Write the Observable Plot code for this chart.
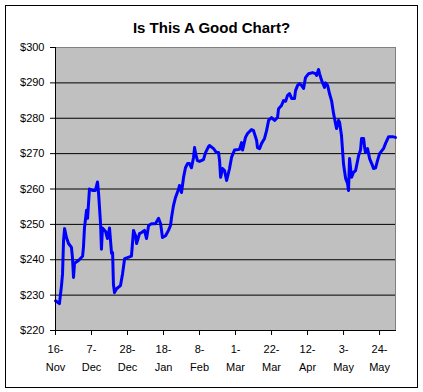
<!DOCTYPE html>
<html>
<head>
<meta charset="utf-8">
<script src="https://cdn.jsdelivr.net/npm/d3@7"></script>
<script src="https://cdn.jsdelivr.net/npm/@observablehq/plot@0.6"></script>
<style>
  html, body { margin: 0; padding: 0; background: #fff; }
  #wrap { position: relative; width: 423px; height: 392px; }
  #border { position: absolute; left: 5px; top: 5px; width: 413px; height: 383px; box-sizing: border-box; border: 1px solid #000; pointer-events: none; }
</style>
</head>
<body>
<div id="wrap"><div id="border"></div></div>
<script>
const title = "Is This A Good Chart?";
const startDate = Date.UTC(2004, 10, 16);
// days after 16-Nov
const dayOffsets = [0, 2.3, 3.5, 4.1, 4.7, 5.3, 6.4, 7.6, 9.3, 9.9, 10.5, 11.1, 13.4, 15.8, 16.3, 16.9, 18.1, 18.7, 19.8, 21.6,
  23.3, 24.5, 25.1, 26.3, 26.8, 27.4, 29.2, 30.3, 31.5, 32.7, 33.3, 33.8, 34.4, 35.6, 37.9, 39.1, 40.3, 42, 44.3, 45.5,
  46.7, 47.3, 49, 50.2, 51.9, 53.1, 54.3, 56, 58.3, 60.1, 61.3, 62.4, 64.2, 65.9, 67.1, 67.7, 68.8, 70, 71.8, 72.3,
  73.5, 74.7, 75.8, 77, 78.2, 79.3, 80.5, 81.1, 81.7, 82.8, 84, 86.3, 87.5, 89.3, 89.8, 92.2, 93.9, 95.1, 95.7, 96.3,
  97.4, 98.6, 99.8, 101.5, 102.7, 104.4, 107.3, 108.5, 109.1, 110.8, 112, 114.3, 115.5, 117.3, 117.8, 119, 120.2, 121.9, 123.1, 124.3,
  126, 127.8, 129.5, 130.1, 131.8, 133, 134.2, 135.3, 136.5, 137.7, 139.4, 140, 141.2, 142.3, 143.5, 144.7, 145.8, 147.6, 149.9, 151.7,
  152.3, 153.4, 154, 155.2, 156.9, 157.5, 158.7, 159.8, 161, 162.2, 163.3, 163.9, 165.1, 165.7, 166.8, 168, 168.6, 169.2, 170.3, 170.9,
  171.5, 172.7, 173.8, 175, 176.2, 176.8, 177.9, 178.5, 179.7, 180.3, 180.8, 182, 183.2, 184.9, 185.5, 186.7, 187.8, 189, 191.3, 192.5,
  194.3, 196.6, 198.3];
const prices = [228.4, 227.6, 232.7, 236, 245.5, 248.8, 246.3, 244.6, 243.5, 240.6, 235, 239, 239.8, 241, 243.5, 249, 254, 251.7, 260, 259.6,
  259.6, 262, 259, 250, 243, 249, 248, 246, 249, 241.8, 242, 233, 230.7, 231.8, 232.7, 236, 240.3, 240.6, 241, 248.3,
  246.8, 244.6, 247.4, 247.7, 248.3, 246, 249.7, 250.2, 250.2, 251.7, 250.2, 246.3, 246.8, 248.3, 249.7, 252, 255.3, 257.6, 260, 261,
  259, 263.3, 266, 267.2, 267.2, 266, 268.9, 271.7, 270, 268, 267.8, 268.3, 270.3, 272, 272.3, 271.4, 270.3, 270.3, 268, 263.3,
  265.8, 265.2, 262.4, 265.8, 269, 271, 271.2, 273.1, 271, 274.6, 275.7, 276.8, 276.5, 273.7, 271.7, 271.4, 272.9, 274.3, 276.5, 279.4,
  280.2, 279.4, 280.2, 282.7, 283.6, 285, 284.8, 286.4, 287, 285.6, 285.6, 287.8, 289.3, 289.8, 289.3, 288.4, 291.5, 292.6, 292.9, 292.6,
  292.1, 293.8, 292.6, 290.7, 288.7, 290, 289.3, 287, 285, 281.3, 278.5, 277.1, 279.4, 278.8, 275.1, 267, 265, 263, 261.6, 259.6,
  268.6, 263.3, 264.7, 265.2, 268, 269.5, 271, 274.3, 274.3, 271.7, 270.3, 271.4, 268.6, 266.6, 265.8, 266, 268, 270, 271.4, 272.9,
  274.8, 274.8, 274.6];
const tickDayOffsets = [0, 21, 42, 63, 84, 105, 126, 147, 168, 189];
const yTicks = [220, 230, 240, 250, 260, 270, 280, 290, 300];
const gridValues = [230, 240, 250, 260, 270, 280, 290];
const domainEndDay = 198.3;

const day = 864e5;
const data = dayOffsets.map((d, i) => ({date: new Date(startDate + d * day), price: prices[i]}));
const tickDates = tickDayOffsets.map(d => new Date(startDate + d * day));
const fmt = d3.utcFormat("%-d-\n%b");

const chart = Plot.plot({
  width: 423,
  height: 392,
  marginLeft: 55,
  marginRight: 28,
  marginTop: 47,
  marginBottom: 62,
  style: {fontFamily: "'Liberation Sans', Arial, sans-serif", fontSize: "11px", background: "transparent", color: "#000"},
  x: {type: "utc", domain: [new Date(startDate), new Date(startDate + domainEndDay * day)]},
  y: {domain: [220, 300]},
  marks: [
    Plot.frame({fill: "#c0c0c0", stroke: "#808080"}),
    Plot.ruleY(gridValues, {stroke: "#000"}),
    Plot.line(data, {x: "date", y: "price", stroke: "#0000ff", strokeWidth: 3, strokeLinejoin: "round"}),
    Plot.frame({anchor: "left", stroke: "#000"}),
    Plot.frame({anchor: "bottom", stroke: "#000"}),
    Plot.axisY(yTicks, {tickFormat: d => "$" + d, tickSize: 5, tickPadding: 6, label: null}),
    Plot.axisX(tickDates, {tickFormat: fmt, tickSize: 5, tickPadding: 5, label: null, lineHeight: 1.6}),
    Plot.text([title], {frameAnchor: "top", dx: -14, dy: -15, lineAnchor: "bottom", fontWeight: "bold", fontSize: 15})
  ]
});
chart.style.position = "absolute";
chart.style.left = "0px";
chart.style.top = "0px";
document.getElementById("wrap").prepend(chart);
</script>
</body>
</html>
